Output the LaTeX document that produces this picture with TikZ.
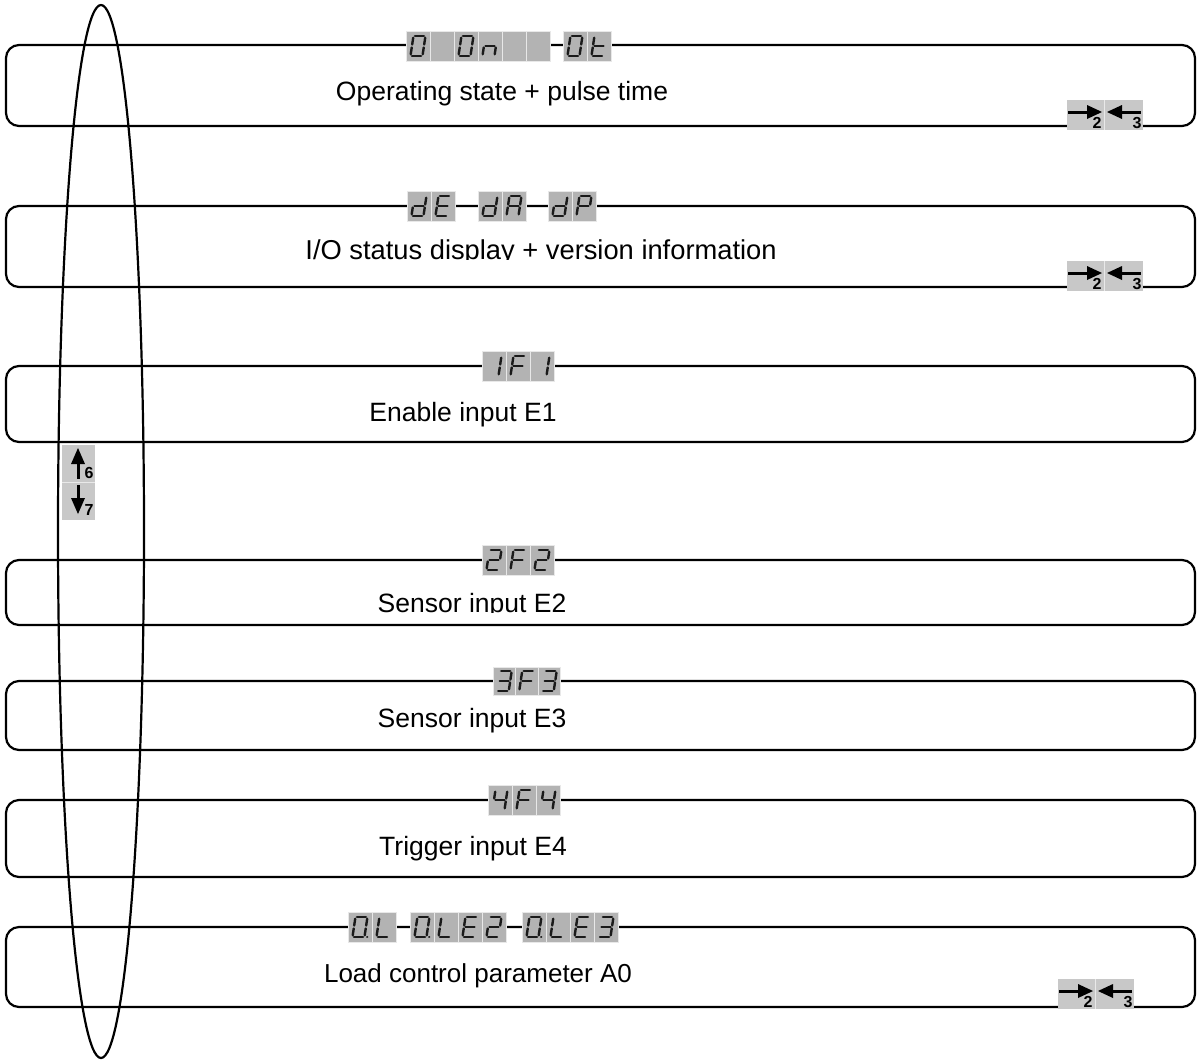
\documentclass[tikz,border=0pt]{standalone}
\usepackage{fontspec}
\setmainfont{Liberation Sans}
\definecolor{dispgray}{HTML}{B3B3B3}
\definecolor{icongray}{HTML}{C8C8C8}
\definecolor{segcol}{HTML}{1A1A1A}
\tikzset{
 boxline/.style={draw=black, line width=2.2pt, rounded corners=13pt},
 segline/.style={draw=segcol, line width=2.4pt, line cap=round},
 lbl/.style={anchor=base, inner sep=0pt, font=\fontsize{26.5}{30}\selectfont},
 num/.style={anchor=base, inner sep=0pt, font=\bfseries\fontsize{16}{16}\selectfont},
 arr/.style={line width=3pt},
 cellsep/.style={draw=white!70!dispgray, line width=0.8pt},
}
\newcommand\cellh{30}
\newcommand\glyph[3]{%
 \begin{scope}[shift={(#1,#2)}, xslant=0.15]
  \coordinate (a1) at (1.5,-19.5); \coordinate (a2) at (10.5,-19.5);
  \coordinate (b1) at (12,-18); \coordinate (b2) at (12,-11.2);
  \coordinate (c1) at (12,-8.3); \coordinate (c2) at (12,-1.5);
  \coordinate (d1) at (1.5,0); \coordinate (d2) at (10.5,0);
  \coordinate (e1) at (0,-8.3); \coordinate (e2) at (0,-1.5);
  \coordinate (f1) at (0,-18); \coordinate (f2) at (0,-11.2);
  \coordinate (g1) at (1.5,-9.75); \coordinate (g2) at (10.5,-9.75);
  \coordinate (p1) at (14.6,0); \coordinate (p2) at (14.7,0);
  \foreach \s in {#3}{\draw[segline] (\s1) -- (\s2);}
 \end{scope}}
\newcommand\dcell[4][24]{%
 \fill[dispgray] (#2,#3-\cellh/2) rectangle ++(#1,\cellh);
 \draw[cellsep] (#2,#3-\cellh/2) rectangle ++(#1,\cellh);
 \glyph{#2+#1/2-7.5}{#3+9.75}{#4}}
\newcommand\bcell[3][24]{%
 \fill[dispgray] (#2,#3-\cellh/2) rectangle ++(#1,\cellh);
 \draw[cellsep] (#2,#3-\cellh/2) rectangle ++(#1,\cellh);}
\newcommand\lricon[3]{% x0, y0, name
 \fill[icongray] (#1,#2) rectangle ++(76,30);
 \draw[white!60!icongray, line width=0.8pt] (#1+37.5,#2) -- ++(0,30);
 \draw[arr] (#1+1,#2+12) -- (#1+23,#2+12);
 \fill (#1+20,#2+5) -- (#1+35,#2+12) -- (#1+20,#2+19) -- cycle;
 \node[num] (#3a) at (#1+30,#2+28) {2};
 \fill (#1+40,#2+12) -- (#1+55,#2+5) -- (#1+55,#2+19) -- cycle;
 \draw[arr] (#1+52,#2+12) -- (#1+74,#2+12);
 \node[num] (#3b) at (#1+70,#2+28) {3};}
\begin{document}
\begin{tikzpicture}[x=1pt,y=-1pt]
\useasboundingbox (0,0) rectangle (1198,1061);
% boxes
\draw[boxline] (6,45) rectangle (1195,126);
\draw[boxline] (6,206) rectangle (1195,287);
\draw[boxline] (6,366) rectangle (1195,442);
\draw[boxline] (6,560) rectangle (1195,625);
\draw[boxline] (6,681) rectangle (1195,750);
\draw[boxline] (6,800) rectangle (1195,877);
\draw[boxline] (6,927) rectangle (1195,1007);
% displays
\dcell{406}{46}{a,b,c,d,e,f}
\bcell{430}{46}
\dcell{454}{46}{a,b,c,d,e,f}
\dcell{478}{46}{c,e,g}
\bcell{502}{46}
\bcell{526}{46}
\dcell{563}{46}{a,b,c,d,e,f}
\dcell{587}{46}{d,e,f,g}
%
\dcell{407}{206}{b,c,d,e,g}
\dcell{431}{206}{a,d,e,f,g}
\dcell{478}{206}{b,c,d,e,g}
\dcell{502}{206}{a,b,c,e,f,g}
\dcell{548}{206}{b,c,d,e,g}
\dcell{572}{206}{a,b,e,f,g}
%
\dcell{482}{366}{b,c}
\dcell{506}{366}{a,e,f,g}
\dcell{530}{366}{b,c}
%
\dcell{482}{560}{a,b,g,e,d}
\dcell{506}{560}{a,e,f,g}
\dcell{530}{560}{a,b,g,e,d}
%
\begingroup
\renewcommand\cellh{28}
\dcell[22.5]{493}{681}{a,b,g,c,d}
\dcell[22.5]{515.5}{681}{a,e,f,g}
\dcell[22.5]{538}{681}{a,b,g,c,d}
\endgroup
%
\dcell{488}{800}{f,g,b,c}
\dcell{512}{800}{a,e,f,g}
\dcell{536}{800}{f,g,b,c}
%
\dcell{348}{927}{a,b,c,d,e,f,p}
\dcell{372}{927}{d,e,f}
\dcell{410}{927}{a,b,c,d,e,f,p}
\dcell{434}{927}{d,e,f}
\dcell{458}{927}{a,d,e,f,g}
\dcell{482}{927}{a,b,g,e,d}
\dcell{522}{927}{a,b,c,d,e,f,p}
\dcell{546}{927}{d,e,f}
\dcell{570}{927}{a,d,e,f,g}
\dcell{594}{927}{a,b,g,c,d}
% arrow icons
\lricon{1067}{100}{ia}
\lricon{1067}{261}{ib}
\lricon{1058}{979}{ic}
% up/down icon
\fill[icongray] (62,445) rectangle (95,520);
\draw[white!60!icongray, line width=0.8pt] (62,482) -- (95,482);
\fill (71,464) -- (78,448) -- (85,464) -- cycle;
\draw[arr] (78,461) -- (78,479);
\node[num] (n6) at (89,478) {6};
\draw[arr] (78,485) -- (78,501);
\fill (71,498) -- (78,514) -- (85,498) -- cycle;
\node[num] (n7) at (89,515) {7};
% ellipse
\draw[line width=2.2pt] (101,531.5) ellipse [x radius=43pt, y radius=526.5pt];
% labels
\node[lbl] (t1) at (502,100) {Operating state + pulse time};
\begin{scope}
\clip (0,0) rectangle (1198,259);
\node[lbl, font=\fontsize{27.3}{30}\selectfont] (t2) at (541,259) {I/O status display + version information};
\end{scope}
\node[lbl] (t3) at (463,421) {Enable input E1};
\begin{scope}
\clip (0,0) rectangle (1198,612);
\node[lbl] (t4) at (472,612) {Sensor input E2};
\end{scope}
\node[lbl] (t5) at (472,727) {Sensor input E3};
\node[lbl] (t6) at (473,855) {Trigger input E4};
\node[lbl, font=\fontsize{26}{30}\selectfont] (t7) at (478,982) {Load control parameter A0};
\end{tikzpicture}
\end{document}
